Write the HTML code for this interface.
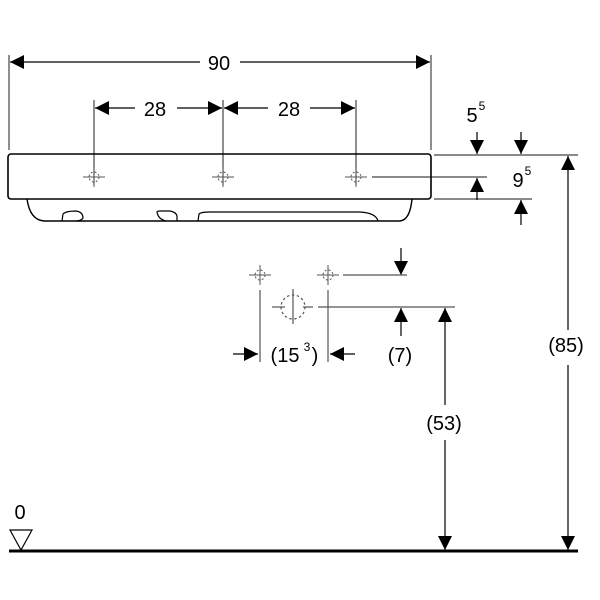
<!DOCTYPE html>
<html><head><style>html,body{margin:0;padding:0;background:#fff}svg{display:block}</style></head>
<body>
<svg width="600" height="600" viewBox="0 0 600 600" xmlns="http://www.w3.org/2000/svg" font-family="Liberation Sans, sans-serif">
<defs>
<marker id="a" viewBox="0 0 10 10" refX="10" refY="5" markerWidth="14" markerHeight="14" markerUnits="userSpaceOnUse" orient="auto"><path d="M0,0 L10,5 L0,10 z" fill="#000"/></marker>
<g id="ch"><line x1="-11" y1="0" x2="11" y2="0" stroke="#555" stroke-width="1"/><line x1="0" y1="-10" x2="0" y2="10" stroke="#555" stroke-width="1"/><circle r="5" fill="none" stroke="#555" stroke-dasharray="2,2"/></g>
</defs>
<g stroke="#444" stroke-width="1.2" fill="none">
<!-- extension lines -->
<line x1="9" y1="55" x2="9" y2="150"/><line x1="431" y1="55" x2="431" y2="150"/>
<line x1="94" y1="100" x2="94" y2="185"/><line x1="223" y1="100" x2="223" y2="185"/><line x1="356" y1="100" x2="356" y2="185"/>
<line x1="434" y1="155" x2="578" y2="155"/>
<line x1="372" y1="177" x2="487" y2="177"/>
<line x1="434" y1="199" x2="532" y2="199"/>
</g>
<g stroke="#000" stroke-width="1.2" fill="none">
<!-- 90 -->
<line x1="200" y1="62" x2="10" y2="62" marker-end="url(#a)"/><line x1="240" y1="62" x2="430" y2="62" marker-end="url(#a)"/>
<line x1="135" y1="108" x2="95" y2="108" marker-end="url(#a)"/><line x1="177" y1="108" x2="222" y2="108" marker-end="url(#a)"/>
<line x1="268" y1="108" x2="224" y2="108" marker-end="url(#a)"/><line x1="310" y1="108" x2="355" y2="108" marker-end="url(#a)"/>
<!-- 5.5 / 9.5 -->
<line x1="477" y1="132" x2="477" y2="154" marker-end="url(#a)"/>
<line x1="521" y1="132" x2="521" y2="154" marker-end="url(#a)"/>
<line x1="477" y1="200" x2="477" y2="178" marker-end="url(#a)"/>
<line x1="521" y1="225" x2="521" y2="200" marker-end="url(#a)"/>
<!-- 85 -->
<line x1="568" y1="330" x2="568" y2="156" marker-end="url(#a)"/><line x1="568" y1="365" x2="568" y2="550" marker-end="url(#a)"/>
<!-- 53 -->
<line x1="445" y1="405" x2="445" y2="308" marker-end="url(#a)"/><line x1="445" y1="440" x2="445" y2="550" marker-end="url(#a)"/>
<!-- 7 -->
<line x1="401" y1="248" x2="401" y2="275" marker-end="url(#a)"/>
<line x1="401" y1="336" x2="401" y2="308" marker-end="url(#a)"/>
<!-- 15.3 -->
<line x1="233" y1="354" x2="258" y2="354" marker-end="url(#a)"/>
<line x1="355" y1="354" x2="330" y2="354" marker-end="url(#a)"/>
<!-- basin -->
<rect x="8" y="154" width="423" height="45" rx="3" stroke-width="1.6"/>
<path d="M27,199 Q30,220 44,221 L400,221 Q410,220 412,199" stroke-width="1.4"/>
<path d="M62,221 L63,214 Q66,211 76,211 Q83,212 83,218 Q81,221 76,221" stroke-width="1.2"/>
<path d="M157,212 Q157,211 160,211 L170,211 Q176,212 177,216 L177,221 M157,212 Q158,219 166,221" stroke-width="1.2"/>
<path d="M198,221 L199,214 Q201,212 210,212 L360,212 Q376,213 378,221" stroke-width="1.2"/>
<!-- ground -->
<line x1="9" y1="551" x2="578" y2="551" stroke-width="3"/>
<path d="M10,530 L32,530 L21,550 Z" stroke-width="1.2" fill="#fff"/>
</g>
<!-- small fixture -->
<g stroke="#555" stroke-width="1.2" fill="none">
<line x1="343" y1="275" x2="407" y2="275"/>
<line x1="272" y1="307" x2="285" y2="307"/><line x1="303" y1="307" x2="313" y2="307"/><line x1="318" y1="307" x2="455" y2="307"/>
<line x1="293" y1="289" x2="293" y2="324"/>
<circle cx="293" cy="307" r="12" stroke-dasharray="2.5,2.5"/>
<line x1="260" y1="290" x2="260" y2="362"/><line x1="328" y1="290" x2="328" y2="362"/>
</g>
<use href="#ch" x="94" y="177"/><use href="#ch" x="223" y="177"/><use href="#ch" x="356" y="177"/>
<use href="#ch" x="260" y="275"/><use href="#ch" x="328" y="275"/>
<g font-size="20" fill="#000" text-anchor="middle">
<text x="219" y="70">90</text>
<text x="155" y="116">28</text>
<text x="289" y="116">28</text>
<text x="472" y="122">5</text><text x="482" y="110" font-size="12">5</text>
<text x="518" y="187">9</text><text x="528" y="175" font-size="12">5</text>
<text x="566" y="352">(85)</text>
<text x="444" y="430">(53)</text>
<text x="400" y="362">(7)</text>
<text x="285" y="362">(15</text><text x="307" y="351" font-size="12">3</text><text x="315" y="362">)</text>
<text x="20" y="519">0</text>
</g>
</svg>
</body></html>
